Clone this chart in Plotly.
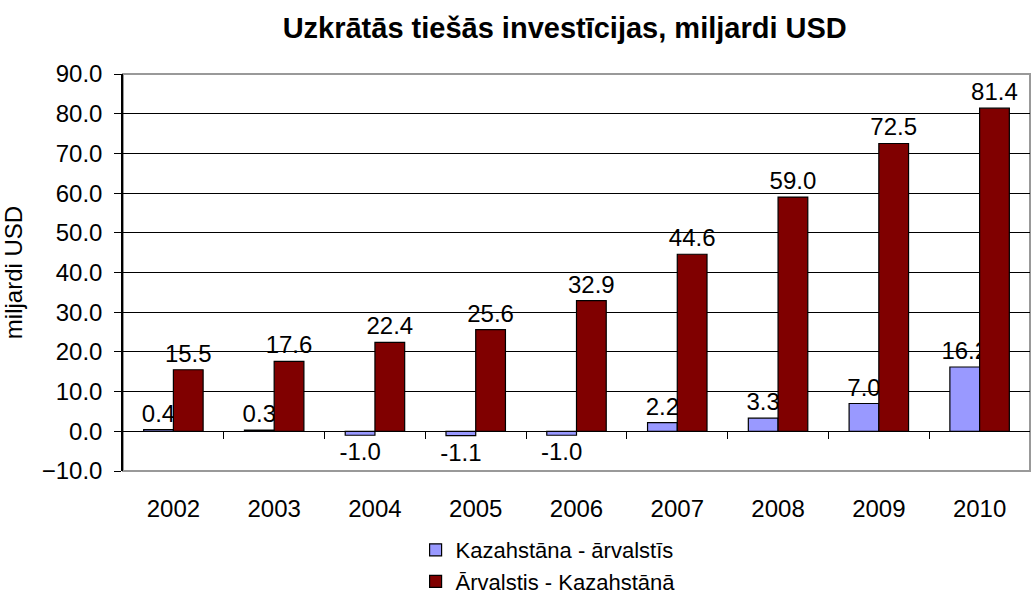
import plotly.graph_objects as go

years = ["2002", "2003", "2004", "2005", "2006", "2007", "2008", "2009", "2010"]
kz_abroad = [0.4, 0.3, -1.0, -1.1, -1.0, 2.2, 3.3, 7.0, 16.2]
foreign_in_kz = [15.5, 17.6, 22.4, 25.6, 32.9, 44.6, 59.0, 72.5, 81.4]
name_kz_abroad = "Kazahstāna - ārvalstīs"
name_foreign = "Ārvalstis - Kazahstānā"
title_text = "Uzkrātās tiešās investīcijas, miljardi USD"
y_title = "miljardi USD"

FONT = "Liberation Sans, Arial, sans-serif"
FS = 24

fig = go.Figure()
fig.add_trace(go.Bar(
    x=years, y=kz_abroad, name=name_kz_abroad,
    marker=dict(color="#9999FF", line=dict(color="#000000", width=1.2)),
    texttemplate="%{y:.1f}", textposition="outside", constraintext="none",
    cliponaxis=False, textfont=dict(size=FS, color="#000000", family=FONT),
))
fig.add_trace(go.Bar(
    x=years, y=foreign_in_kz, name=name_foreign,
    marker=dict(color="#800000", line=dict(color="#000000", width=1.2)),
    texttemplate="%{y:.1f}", textposition="outside", constraintext="none",
    cliponaxis=False, textfont=dict(size=FS, color="#000000", family=FONT),
))
# invisible helper trace for category boundary ticks on the zero line
fig.add_trace(go.Scatter(x=[-0.5, len(years) - 0.5], y=[0, 0], xaxis="x2",
                         mode="lines", line=dict(width=0), showlegend=False,
                         hoverinfo="skip"))

fig.update_layout(
    width=1033, height=596,
    margin=dict(l=123, r=3, t=74, b=125),
    paper_bgcolor="white", plot_bgcolor="white",
    font=dict(family=FONT, size=FS, color="#000000"),
    barmode="group", bargap=0.41, bargroupgap=0,
    title=dict(text="<b>" + title_text + "</b>", font=dict(size=29, family=FONT),
               xref="paper", x=0.487, xanchor="center",
               yref="container", y=1 - 28 / 596, yanchor="middle"),
    xaxis=dict(type="category", showgrid=False, showline=False, ticks="",
               tickfont=dict(size=FS), ticklabelstandoff=21),
    xaxis2=dict(overlaying="x", anchor="free", position=0.1,
                range=[-0.5, len(years) - 0.5],
                tickvals=[i + 0.5 for i in range(len(years) - 1)],
                ticks="outside", ticklen=7, tickcolor="#000000",
                showticklabels=False, showgrid=False, showline=False,
                zeroline=False),
    yaxis=dict(range=[-10, 90], dtick=10, tickformat=".1f",
               showgrid=True, gridcolor="#000000", gridwidth=1,
               zeroline=True, zerolinecolor="#000000", zerolinewidth=1,
               showline=True, linecolor="#000000", linewidth=1.5,
               ticks="outside", ticklen=7, tickcolor="#000000",
               ticklabelstandoff=7,
               tickfont=dict(size=FS),
               title=dict(text=y_title, font=dict(size=FS), standoff=12)),
    legend=dict(orientation="v", xref="paper", x=0.3226, xanchor="left",
                yref="container", y=1 - 529 / 596, yanchor="top",
                font=dict(size=22), tracegroupgap=0,
                bgcolor="rgba(0,0,0,0)"),
    shapes=[dict(type="rect", xref="paper", yref="paper", x0=0, x1=1, y0=0, y1=1,
                 line=dict(color="#999999", width=2), layer="below")],
)

fig.write_html("out.html", config={"displayModeBar": False},
               post_script="document.body.style.margin='0';")
